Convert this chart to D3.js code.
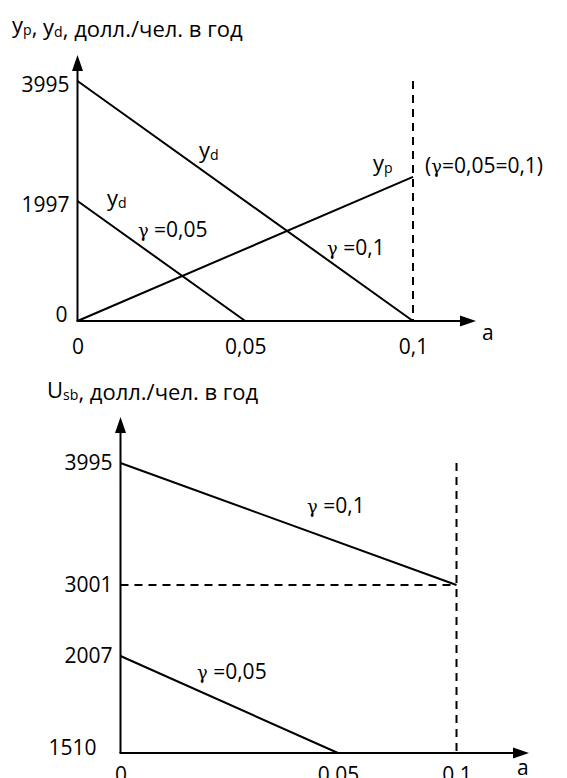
<!DOCTYPE html>
<html>
<head>
<meta charset="utf-8">
<script src="https://cdn.jsdelivr.net/npm/d3@7"></script>
<style>
  body { margin: 0; background: #fff; }
  svg { display: block; font-family: "Open Sans", sans-serif; }
</style>
</head>
<body>
<svg id="chart" width="567" height="778"></svg>
<script>
// horizontal axis (a) for both charts
const aTicks = [0, 0.05, 0.1];
const aTickLabels = ["0", "0,05", "0,1"];
const aShort = [0, 0.05];
const aLong = [0, 0.1];

// upper chart : yp, yd
const incomeTicks = [0, 1997, 3995];
const ydGamma005 = [1997, 0];   // over aShort
const ydGamma01 = [3995, 0];    // over aLong
const ypLine = [0, 2400];       // over aLong

// lower chart : Usb
const usbTicks = [1510, 2007, 3001, 3995];
const usbGamma01 = [3995, 3001];   // over aLong
const usbGamma005 = [2007, 1510];  // over aShort

const svg = d3.select("#chart");
const ink = "#000";

//draws a text made of parts : [string, "sub"|"g"|undefined]
function label(g, x, y, parts, size){
  const t = g.append("text")
    .attr("x", x).attr("y", y)
    .attr("font-size", size)
    .attr("fill", ink);
  parts.forEach(p => {
    const s = t.append("tspan").text(p[0]);
    if(p[1] === "sub"){
      s.attr("font-size", size*0.64).attr("dy", 2);
      t.append("tspan").attr("dy", -2).text("");
    } else if(p[1] === "g"){
      s.attr("font-size", size*0.85).attr("font-family", "DejaVu Serif").attr("font-weight", 300);
    }
  });
  return t;
}

function arrowAxes(g, x, y, yTip, xTip){
  const x0 = x.range()[0], y0 = y.range()[0];
  g.append("line").attr("x1", x0).attr("y1", y0).attr("x2", x0).attr("y2", yTip + 10)
    .attr("stroke", ink).attr("stroke-width", 2);
  g.append("path").attr("d", `M${x0},${yTip}L${x0-5.5},${yTip+16}L${x0+5.5},${yTip+16}Z`).attr("fill", ink);
  g.append("line").attr("x1", x0 - 1).attr("y1", y0).attr("x2", xTip - 10).attr("y2", y0)
    .attr("stroke", ink).attr("stroke-width", 2);
  g.append("path").attr("d", `M${xTip},${y0}L${xTip-16},${y0-5.5}L${xTip-16},${y0+5.5}Z`).attr("fill", ink);
}

//tick labels, the lowest value label sits a bit apart (minDx, minDy)
function ticks(g, x, y, yValues, padX, padY, minDx, minDy, shift){
  const ya = g.append("g")
    .attr("transform", `translate(${x.range()[0]},0)`)
    .call(d3.axisLeft(y).tickValues(yValues).tickFormat(d3.format("d")).tickSize(0).tickPadding(padX));
  ya.select(".domain").remove();
  ya.attr("font-size", 21).attr("font-family", null);
  ya.selectAll("text").attr("fill", ink)
    .attr("transform", d => d === yValues[0] ? `translate(${minDx},${minDy})` : `translate(0,${shift})`);

  const xa = g.append("g")
    .attr("transform", `translate(0,${y.range()[0]})`)
    .call(d3.axisBottom(x).tickValues(aTicks).tickFormat((d, i) => aTickLabels[i]).tickSize(0).tickPadding(padY));
  xa.select(".domain").remove();
  xa.attr("font-size", 21).attr("font-family", null);
  xa.selectAll("text").attr("fill", ink);
}

function drawLine(g, x, y, as, vs, dashed){
  const line = d3.line().x(d => x(d[0])).y(d => y(d[1]));
  g.append("path")
    .datum(d3.zip(as, vs))
    .attr("d", line)
    .attr("fill", "none")
    .attr("stroke", ink)
    .attr("stroke-width", 2)
    .attr("stroke-dasharray", dashed ? "8,6" : null);
}

// ---------- upper chart ----------
const upper = svg.append("g");
const xTop = d3.scaleLinear().domain([0, 0.1]).range([77.5, 413]);
const yTop = d3.scaleLinear().domain([0, 3995]).range([321, 81]);

label(upper, 12, 33, [["y"], ["p", "sub"], [", y"], ["d", "sub"], [", долл./чел. в год"]], 22);
arrowAxes(upper, xTop, yTop, 55, 476);
ticks(upper, xTop, yTop, incomeTicks, 8, 18, -2, -6, 4);
label(upper, 482, 340, [["a"]], 21);

drawLine(upper, xTop, yTop, [0.1, 0.1], [3995, 0], true);
drawLine(upper, xTop, yTop, aShort, ydGamma005);
drawLine(upper, xTop, yTop, aLong, ydGamma01);
drawLine(upper, xTop, yTop, aLong, ypLine);

label(upper, xTop(0.0362), yTop(2713), [["y"], ["d", "sub"]], 22);
label(upper, xTop(0.0088), yTop(1914), [["y"], ["d", "sub"]], 22);
label(upper, xTop(0.0881), yTop(2497), [["y"], ["p", "sub"]], 22);
label(upper, xTop(0.018), yTop(1398), [["γ", "g"], [" =0,05"]], 21);
label(upper, xTop(0.0744), yTop(1099), [["γ", "g"], [" =0,1"]], 21);
label(upper, xTop(0.1036), yTop(2464), [["("], ["γ", "g"], ["=0,05=0,1)"]], 21);

// ---------- lower chart ----------
const lower = svg.append("g");
const xBot = d3.scaleLinear().domain([0, 0.05, 0.1]).range([120.5, 338, 456.5]);
const yBot = d3.scaleLinear().domain([1510, 2007, 3001, 3995]).range([753, 656, 585, 463]);

label(lower, 47, 398, [["U"], ["sb", "sub"], [", долл./чел. в год"]], 22);
arrowAxes(lower, xBot, yBot, 417, 529);
ticks(lower, xBot, yBot, usbTicks, 8, 14, -16, -5, 0);
label(lower, 517, 775, [["a"]], 21);

drawLine(lower, xBot, yBot, [0.1, 0.1], [3995, 1510], true);
drawLine(lower, xBot, yBot, aLong, [3001, 3001], true);
drawLine(lower, xBot, yBot, aLong, usbGamma01);
drawLine(lower, xBot, yBot, aShort, usbGamma005);

label(lower, xBot(0.0429), yBot(3588), [["γ", "g"], [" =0,1"]], 21);
label(lower, xBot(0.0176), yBot(1889), [["γ", "g"], [" =0,05"]], 21);
</script>
</body>
</html>
